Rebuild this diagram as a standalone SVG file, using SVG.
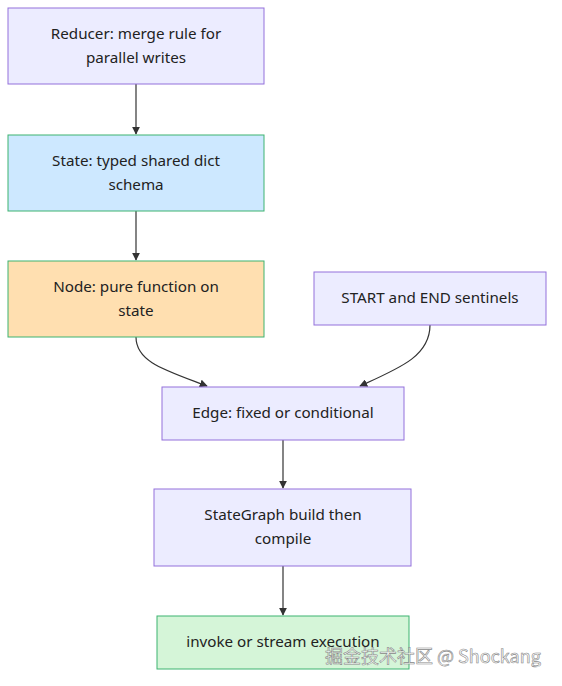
<svg xmlns="http://www.w3.org/2000/svg" width="562" height="686" viewBox="0 0 562 686">
<style>
.lav{fill:#ececff;stroke:#9370db;stroke-width:1}
.blue{fill:#cde8ff;stroke:#3cb371;stroke-width:1}
.peach{fill:#ffdfb0;stroke:#3cb371;stroke-width:1}
.green{fill:#d5f5d8;stroke:#3cb371;stroke-width:1}
text{font-family:"Noto Sans","DejaVu Sans",sans-serif;font-size:15.2px;fill:#222;text-anchor:middle}
.edge{fill:none;stroke:#333;stroke-width:1.2}
.wm{font-family:"Noto Sans CJK SC","Noto Sans",sans-serif;font-size:18px;fill:#ffffff;fill-opacity:0.75;stroke:#888;stroke-width:0.6;text-anchor:start}
</style>
<defs>
<marker id="arr" viewBox="0 0 10 10" refX="9" refY="5" markerWidth="8" markerHeight="8" markerUnits="userSpaceOnUse" orient="auto">
<path d="M0,0 L10,5 L0,10 z" fill="#333"/>
</marker>
</defs>
<rect width="562" height="686" fill="#ffffff"/>
<g id="connectors">
<path class="edge" d="M136,84 L136,134" marker-end="url(#arr)"/>
<path class="edge" d="M136,211 L136,260" marker-end="url(#arr)"/>
<path class="edge" d="M136,337 C136,362 165,370 207,386" marker-end="url(#arr)"/>
<path class="edge" d="M430,325 C430,356 400,368 360,386" marker-end="url(#arr)"/>
<path class="edge" d="M283,440 L283,488" marker-end="url(#arr)"/>
<path class="edge" d="M283,566 L283,615" marker-end="url(#arr)"/>
</g>
<g id="reducer">
<rect class="lav" x="8" y="8" width="256" height="76"/>
<text x="136" y="39">Reducer: merge rule for</text>
<text x="136" y="63">parallel writes</text>
</g>
<g id="state">
<rect class="blue" x="8" y="135" width="256" height="76"/>
<text x="136" y="166">State: typed shared dict</text>
<text x="136" y="190">schema</text>
</g>
<g id="node">
<rect class="peach" x="8" y="261" width="256" height="76"/>
<text x="136" y="292">Node: pure function on</text>
<text x="136" y="316">state</text>
</g>
<g id="sentinels">
<rect class="lav" x="314" y="272" width="232" height="53"/>
<text x="430" y="303">START and END sentinels</text>
</g>
<g id="edgenode">
<rect class="lav" x="162" y="387" width="242" height="53"/>
<text x="283" y="418">Edge: fixed or conditional</text>
</g>
<g id="stategraph">
<rect class="lav" x="154" y="489" width="257" height="77"/>
<text x="283" y="520">StateGraph build then</text>
<text x="283" y="544">compile</text>
</g>
<g id="invoke">
<rect class="green" x="157" y="616" width="252" height="53"/>
<text x="283" y="647">invoke or stream execution</text>
</g>
<text class="wm" x="325" y="663">掘金技术社区 @ Shockang</text>
</svg>
